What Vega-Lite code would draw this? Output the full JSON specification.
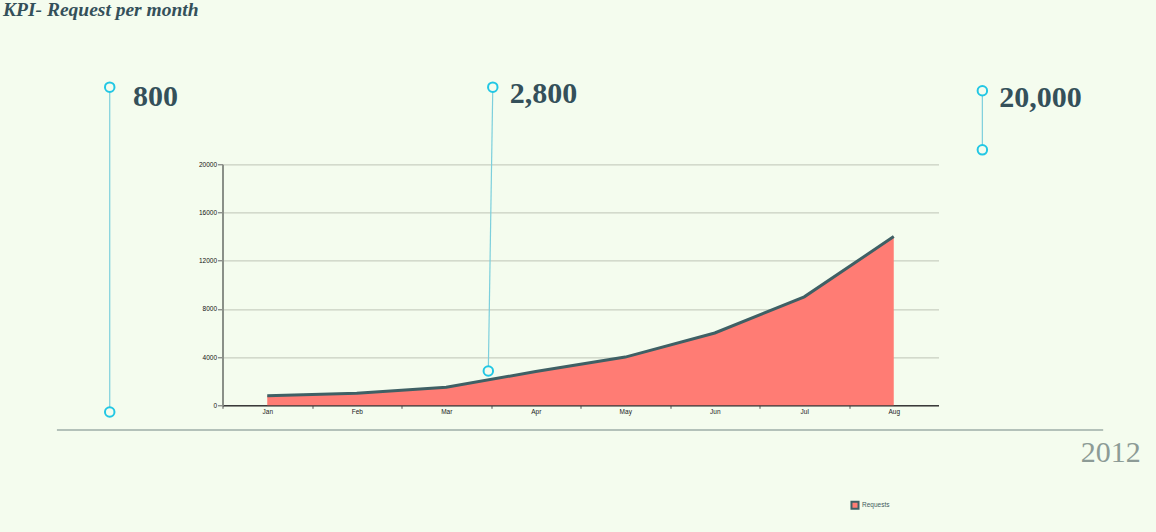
{
  "$schema": "https://vega.github.io/schema/vega-lite/v6.json",
  "width": 716,
  "height": 241,
  "autosize": {"type": "none"},
  "padding": {"left": 222.5, "top": 164.3, "right": 217, "bottom": 126.7},
  "background": "#f4fcee",
  "config": {"view": {"stroke": null}, "font": "Liberation Sans"},
  "title": {
    "text": "KPI- Request per month",
    "anchor": "start",
    "frame": "group",
    "orient": "top",
    "font": "Liberation Serif",
    "fontSize": 19.5,
    "fontStyle": "italic",
    "fontWeight": "bold",
    "color": "#34505a",
    "baseline": "alphabetic",
    "dx": -219.5,
    "offset": 42.5
  },
  "datasets": {
    "requests": [
      {"month": "Jan", "requests": 800, "series": "Requests"},
      {"month": "Feb", "requests": 1000, "series": "Requests"},
      {"month": "Mar", "requests": 1500, "series": "Requests"},
      {"month": "Apr", "requests": 2800, "series": "Requests"},
      {"month": "May", "requests": 4000, "series": "Requests"},
      {"month": "Jun", "requests": 6000, "series": "Requests"},
      {"month": "Jul", "requests": 9000, "series": "Requests"},
      {"month": "Aug", "requests": 14000, "series": "Requests"}
    ],
    "callouts": [
      {"label": "800", "xt": -1.76, "yt": 26400, "xb": -1.76, "yb": -560, "lx": -1.5, "ly": 24800},
      {"label": "2,800", "xt": 2.52, "yt": 26400, "xb": 2.47, "yb": 2850, "lx": 2.71, "ly": 25100},
      {"label": "20,000", "xt": 7.99, "yt": 26100, "xb": 7.99, "yb": 21200, "lx": 8.18, "ly": 24750}
    ],
    "period": [
      {"label": "2012", "start": -2.35, "end": 9.34, "y": -2050, "lx": 9.76, "ly": -4700}
    ]
  },
  "resolve": {"scale": {"x": "independent"}},
  "layer": [
    {
      "data": {"name": "requests"},
      "mark": {"type": "area", "opacity": 1},
      "encoding": {
        "x": {
          "field": "month",
          "type": "ordinal",
          "sort": null,
          "scale": {"type": "point", "padding": 0.5},
          "axis": {
            "title": null,
            "labelAngle": 0,
            "labelFontSize": 6.5,
            "labelColor": "#222",
            "tickColor": "#555",
            "tickSize": 3,
            "tickOffset": -44.75,
            "labelOffset": 44.75,
            "labelPadding": 0,
            "domainColor": "#3a3a3a",
            "domainWidth": 1.5,
            "grid": false
          }
        },
        "y": {
          "field": "requests",
          "type": "quantitative",
          "scale": {"domain": [0, 20000], "nice": false},
          "axis": {
            "title": null,
            "values": [0, 4000, 8000, 12000, 16000, 20000],
            "format": "d",
            "labelFontSize": 6.5,
            "labelColor": "#111",
            "labelPadding": 1,
            "tickColor": "#666",
            "tickSize": 5,
            "domainColor": "#8a9088",
            "domainWidth": 2,
            "grid": true,
            "gridColor": "#c9cfc1",
            "gridWidth": 1.3
          }
        },
        "color": {
          "field": "series",
          "type": "nominal",
          "scale": {"range": ["#ff7c74"]},
          "legend": {
            "orient": "none",
            "legendX": 627.5,
            "legendY": 336,
            "title": null,
            "symbolType": "square",
            "symbolSize": 50,
            "symbolStrokeColor": "#3f6065",
            "symbolStrokeWidth": 2,
            "labelFontSize": 6.5,
            "labelColor": "#3f5a60",
            "labelOffset": 2
          }
        }
      }
    },
    {
      "data": {"name": "requests"},
      "mark": {"type": "line", "color": "#3f6065", "strokeWidth": 3},
      "encoding": {
        "x": {"field": "month", "type": "ordinal", "sort": null, "scale": {"type": "point", "padding": 0.5}, "axis": null},
        "y": {"field": "requests", "type": "quantitative", "scale": {"domain": [0, 20000], "nice": false}}
      }
    },
    {
      "data": {"name": "callouts"},
      "mark": {"type": "rule", "color": "#7ccfdc", "strokeWidth": 1.2},
      "encoding": {
        "x": {"field": "xt", "type": "quantitative", "scale": {"domain": [-0.5, 7.5], "nice": false, "zero": false}, "axis": null},
        "x2": {"field": "xb"},
        "y": {"field": "yt", "type": "quantitative", "scale": {"domain": [0, 20000], "nice": false}},
        "y2": {"field": "yb"}
      }
    },
    {
      "data": {"name": "callouts"},
      "mark": {"type": "point", "shape": "circle", "filled": true, "fill": "#f4fcee", "stroke": "#22c7e4", "strokeWidth": 2, "size": 90, "opacity": 1},
      "encoding": {
        "x": {"field": "xt", "type": "quantitative", "scale": {"domain": [-0.5, 7.5], "nice": false, "zero": false}, "axis": null},
        "y": {"field": "yt", "type": "quantitative", "scale": {"domain": [0, 20000], "nice": false}}
      }
    },
    {
      "data": {"name": "callouts"},
      "mark": {"type": "point", "shape": "circle", "filled": true, "fill": "#f4fcee", "stroke": "#22c7e4", "strokeWidth": 2, "size": 90, "opacity": 1},
      "encoding": {
        "x": {"field": "xb", "type": "quantitative", "scale": {"domain": [-0.5, 7.5], "nice": false, "zero": false}, "axis": null},
        "y": {"field": "yb", "type": "quantitative", "scale": {"domain": [0, 20000], "nice": false}}
      }
    },
    {
      "data": {"name": "callouts"},
      "mark": {"type": "text", "font": "Liberation Serif", "fontSize": 30, "fontWeight": "bold", "color": "#34505a", "align": "left", "baseline": "alphabetic"},
      "encoding": {
        "x": {"field": "lx", "type": "quantitative", "scale": {"domain": [-0.5, 7.5], "nice": false, "zero": false}, "axis": null},
        "y": {"field": "ly", "type": "quantitative", "scale": {"domain": [0, 20000], "nice": false}},
        "text": {"field": "label"}
      }
    },
    {
      "data": {"name": "period"},
      "mark": {"type": "rule", "color": "#9eaea7", "strokeWidth": 1.5},
      "encoding": {
        "x": {"field": "start", "type": "quantitative", "scale": {"domain": [-0.5, 7.5], "nice": false, "zero": false}, "axis": null},
        "x2": {"field": "end"},
        "y": {"field": "y", "type": "quantitative", "scale": {"domain": [0, 20000], "nice": false}}
      }
    },
    {
      "data": {"name": "period"},
      "mark": {"type": "text", "font": "Liberation Serif", "fontSize": 30, "color": "#8c9b96", "align": "right", "baseline": "alphabetic"},
      "encoding": {
        "x": {"field": "lx", "type": "quantitative", "scale": {"domain": [-0.5, 7.5], "nice": false, "zero": false}, "axis": null},
        "y": {"field": "ly", "type": "quantitative", "scale": {"domain": [0, 20000], "nice": false}},
        "text": {"field": "label"}
      }
    }
  ]
}
